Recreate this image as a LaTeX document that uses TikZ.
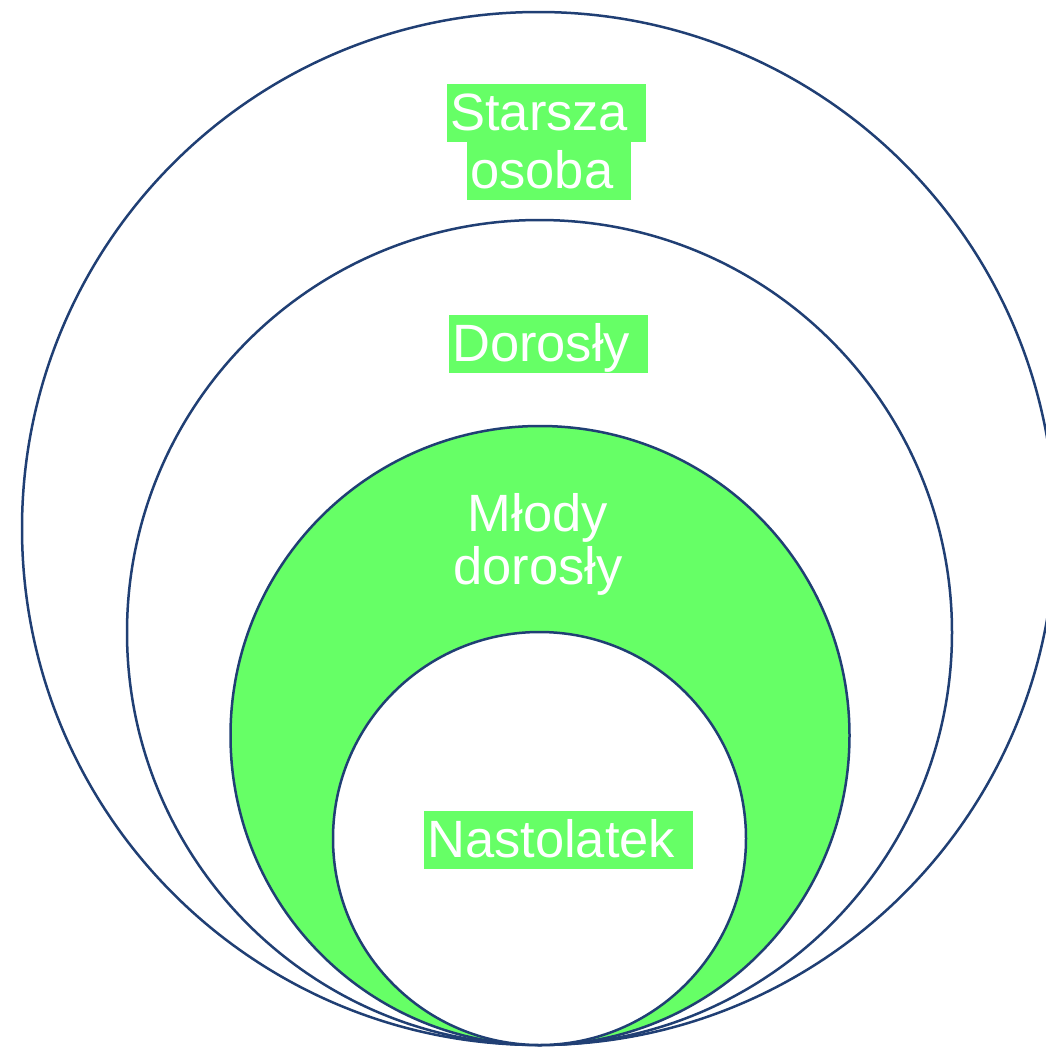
\documentclass[tikz,border=0pt]{standalone}
\usepackage{fontspec}
\setmainfont{Liberation Sans}
\definecolor{ringline}{HTML}{203F74}
\definecolor{hlgreen}{HTML}{66FF66}
\newcommand{\trailsp}{\kern14.5pt}
\begin{document}
\begin{tikzpicture}[x=1pt,y=-1pt,
  ring/.style={circle,draw=ringline,line width=2.5pt,inner sep=0pt,minimum size=#1},
  lbl/.style={font=\fontsize{52.5}{60}\selectfont,text=white,fill=hlgreen,inner xsep=3pt,inner ysep=0pt,text height=46pt,text depth=12pt,anchor=base west},
  plain/.style={font=\fontsize{52.5}{60}\selectfont,text=white,inner sep=0pt,anchor=base}]
\useasboundingbox (0,0) rectangle (1046,1047);
\clip (0,0) rectangle (1046,1047);
\node[ring=1033pt,fill=white] (outer) at (538.5,528.5) {};
\node[ring=825pt,fill=white] (adult) at (539.5,632.5) {};
\node[ring=619pt,fill=hlgreen] (young) at (540,735.5) {};
\node[ring=413pt,fill=white] (teen) at (539.5,838.5) {};
\node[lbl] (t1) at (447,130) {Starsza\trailsp};
\node[lbl] (t2) at (467,188) {osoba\trailsp};
\node[lbl] (t3) at (449,361) {Dorosły\trailsp};
\node[plain] (t4) at (538,531) {Młody};
\node[plain] (t5) at (538,584) {dorosły};
\node[lbl] (t6) at (424,857) {Nastolatek\trailsp};
\end{tikzpicture}
\end{document}
